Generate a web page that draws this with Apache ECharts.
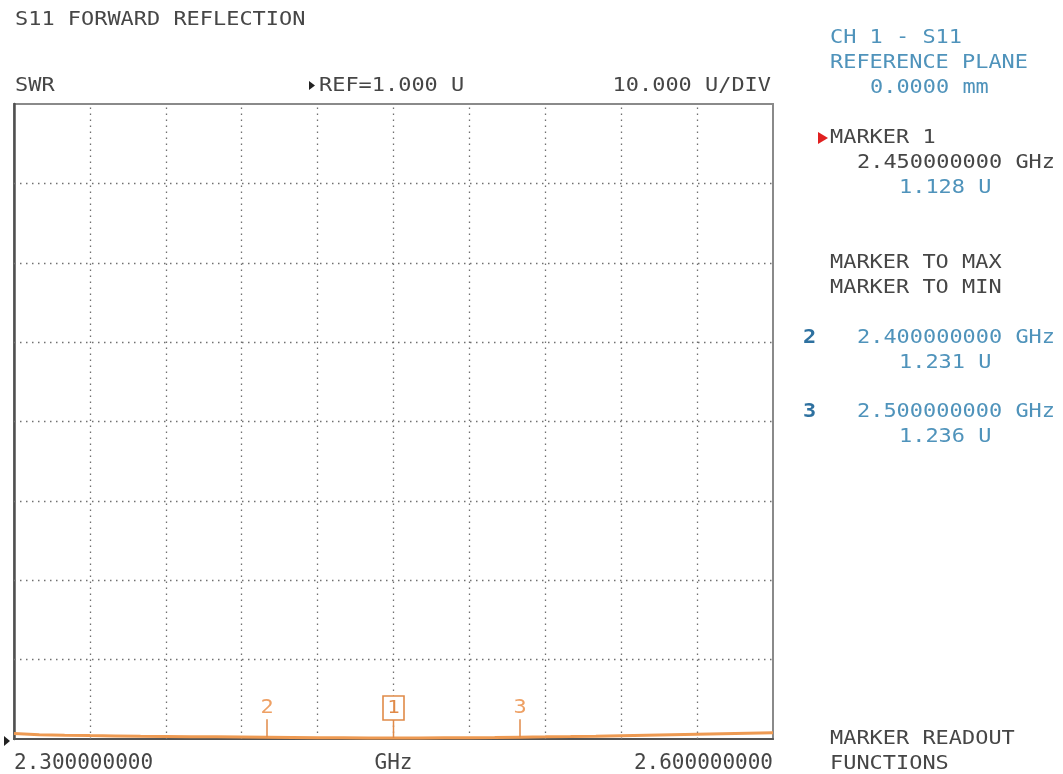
<!DOCTYPE html>
<html><head><meta charset="utf-8">
<script src="https://cdn.jsdelivr.net/npm/echarts@6/dist/echarts.min.js"></script>
<style>html,body{margin:0;padding:0;background:#fff}#c{width:1063px;height:774px}</style>
</head><body><div id="c"></div>
<script>
// ---- data ----
var freqGHz = [2.30,2.31,2.32,2.33,2.34,2.35,2.36,2.37,2.38,2.39,2.40,2.41,2.42,2.43,2.44,2.45,2.46,2.47,2.48,2.49,2.50,2.51,2.52,2.53,2.54,2.55,2.56,2.57,2.58,2.59,2.60];
var swr = [1.70,1.55,1.48,1.43,1.39,1.35,1.32,1.29,1.27,1.25,1.231,1.20,1.17,1.15,1.135,1.128,1.135,1.15,1.17,1.20,1.236,1.27,1.31,1.36,1.42,1.48,1.54,1.60,1.66,1.72,1.78];
var markerFreq = [2.40, 2.45, 2.50];
var markerVal = [1.231, 1.128, 1.236];
var markerName = ['2', '1', '3'];
var xGridLines = [2.33,2.36,2.39,2.42,2.45,2.48,2.51,2.54,2.57];
var yGridLines = [11,21,31,41,51,61,71];
var xTickText = {min: '2.300000000', mid: 'GHz', max: '2.600000000'};

var FONT = 'DejaVu Sans Mono';
var GREY = '#464646';
var BLUE = '#4f93bb';
var DBLUE = '#2e71a0';
var ORANGE = '#ee9a52';
var SX = 1.154;

function t(x, y, s, color, align, extra) {
  var st = {text: s, x: 0, y: 0, fill: color, font: '19px "' + FONT + '"', textAlign: align || 'left', textVerticalAlign: 'middle'};
  if (extra) for (var k in extra) st[k] = extra[k];
  return {type: 'text', x: x, y: y, scaleX: SX, scaleY: 1.03, silent: true, style: st};
}

var chart = echarts.init(document.getElementById('c'), null, {renderer: 'canvas'});
var gridLineStyle = {color: '#707070', width: 1.3, type: [1.5, 4.5]};
var option = {
  animation: false,
  backgroundColor: '#fff',
  grid: {left: 14, right: 290, top: 104, bottom: 33, show: true, borderColor: '#8a8a8a', borderWidth: 2, backgroundColor: '#fff'},
  xAxis: {
    type: 'value', min: 2.30, max: 2.60, interval: 0.05,
    axisLine: {show: true, lineStyle: {color: '#555', width: 2}},
    axisTick: {show: false}, splitLine: {show: false},
    axisLabel: {
      show: true, margin: 14, color: GREY, fontFamily: FONT, fontSize: 21,
      alignMinLabel: 'left', alignMaxLabel: 'right',
      formatter: function (v) {
        if (Math.abs(v - 2.30) < 1e-6) return xTickText.min;
        if (Math.abs(v - 2.45) < 1e-6) return xTickText.mid;
        if (Math.abs(v - 2.60) < 1e-6) return xTickText.max;
        return '';
      }
    }
  },
  yAxis: {
    type: 'value', min: 1, max: 81,
    axisLine: {show: true, lineStyle: {color: '#505050', width: 2.5}},
    axisTick: {show: false}, axisLabel: {show: false}, splitLine: {show: false}
  },
  series: [
    {
      type: 'line', data: freqGHz.map(function (f, i) { return [f, swr[i]]; }),
      showSymbol: false, symbol: 'none',
      lineStyle: {color: ORANGE, width: 3},
      z: 5,
      markLine: {
        silent: true, symbol: 'none', animation: false,
        label: {show: false},
        lineStyle: gridLineStyle,
        data: xGridLines.map(function (v) { return {xAxis: v}; })
          .concat(yGridLines.map(function (v) { return {yAxis: v}; }))
      }
    },
    {
      type: 'custom', z: 10,
      data: markerFreq.map(function (f, i) { return [f, markerVal[i], i]; }),
      renderItem: function (params, api) {
        var p = api.coord([api.value(0), api.value(1)]);
        var name = markerName[api.value(2)];
        var col = '#e08a48';
        var children = [
          {type: 'line', shape: {x1: p[0], y1: p[1] - 18, x2: p[0], y2: p[1]}, style: {stroke: col, lineWidth: 1.5}}
        ];
        if (name === '1') {
          children.push({type: 'rect', shape: {x: p[0] - 10.5, y: p[1] - 42, width: 21, height: 24}, style: {fill: '#fff', stroke: col, lineWidth: 1.6}});
          children.push({type: 'text', x: p[0], y: p[1] - 30, scaleX: SX, style: {text: name, x: 0, y: 0, fill: col, font: '18px "' + FONT + '"', textAlign: 'center', textVerticalAlign: 'middle'}});
        } else {
          children.push({type: 'text', x: p[0], y: p[1] - 29, scaleX: SX, style: {text: name, x: 0, y: 0, fill: '#eea064', font: '19px "' + FONT + '"', textAlign: 'center', textVerticalAlign: 'middle'}});
        }
        return {type: 'group', children: children};
      }
    }
  ],
  graphic: [
    t(15, 20, 'S11 FORWARD REFLECTION', GREY),
    t(15, 86, 'SWR', GREY),
    {type: 'polygon', silent: true, shape: {points: [[309, 81], [315, 85.5], [309, 90]]}, style: {fill: '#222'}},
    t(319, 86, 'REF=1.000 U', GREY),
    t(771, 86, '10.000 U/DIV', GREY, 'right'),
    {type: 'polygon', silent: true, shape: {points: [[4, 736], [10, 741], [4, 746]]}, style: {fill: '#222'}},
    t(830, 38, 'CH 1 - S11', BLUE),
    t(830, 63, 'REFERENCE PLANE', BLUE),
    t(870, 88, '0.0000 mm', BLUE),
    {type: 'polygon', silent: true, shape: {points: [[818, 132], [828, 138], [818, 144]]}, style: {fill: '#e02020'}},
    t(830, 138, 'MARKER 1', GREY),
    t(857, 163, '2.450000000 GHz', GREY),
    t(899, 188, '1.128 U', BLUE),
    t(830, 263, 'MARKER TO MAX', GREY),
    t(830, 288, 'MARKER TO MIN', GREY),
    t(803, 338, '2', DBLUE, 'left', {font: 'bold 19px "' + FONT + '"'}),
    t(857, 338, '2.400000000 GHz', BLUE),
    t(899, 363, '1.231 U', BLUE),
    t(803, 412, '3', DBLUE, 'left', {font: 'bold 19px "' + FONT + '"'}),
    t(857, 412, '2.500000000 GHz', BLUE),
    t(899, 437, '1.236 U', BLUE),
    t(830, 739, 'MARKER READOUT', GREY),
    t(830, 764, 'FUNCTIONS', GREY)
  ]
};
chart.setOption(option);
</script>
</body></html>
